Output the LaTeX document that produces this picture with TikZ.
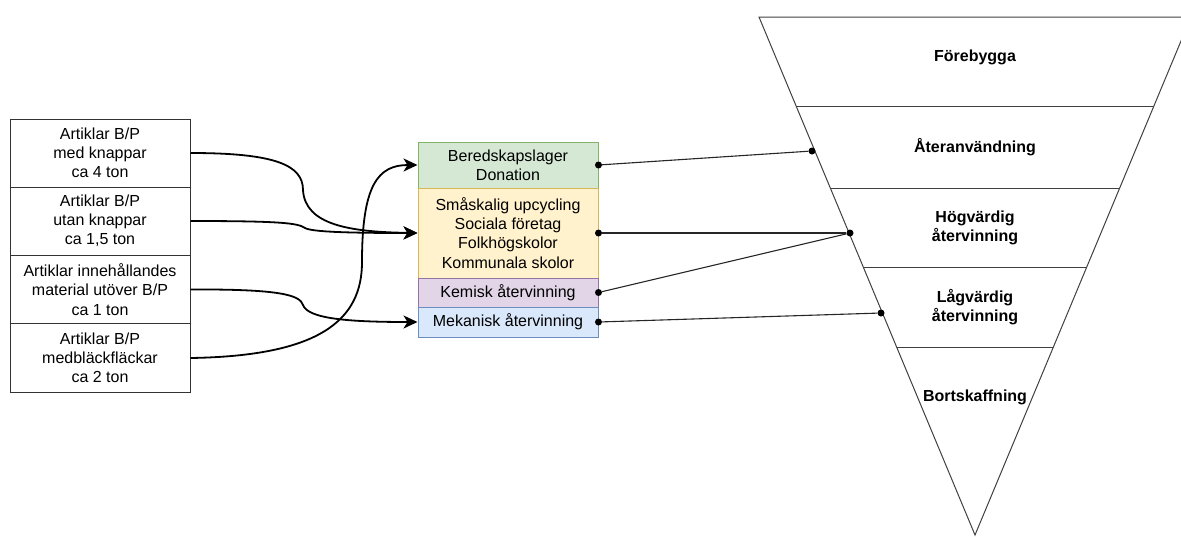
\documentclass[tikz,border=0pt]{standalone}
\usepackage{fontspec}
\setmainfont{Liberation Sans}
\usetikzlibrary{arrows.meta,calc}
\definecolor{grnF}{HTML}{D5E8D4}\definecolor{grnD}{HTML}{82B366}
\definecolor{yelF}{HTML}{FFF2CC}\definecolor{yelD}{HTML}{D6B656}
\definecolor{purF}{HTML}{E1D5E7}\definecolor{purD}{HTML}{9673A6}
\definecolor{bluF}{HTML}{DAE8FC}\definecolor{bluD}{HTML}{6C8EBF}

\begin{document}
\begin{tikzpicture}[x=1pt, y=-1pt, every node/.style={font=\fontsize{16}{19.2}\selectfont, align=center},
	art/.style={draw=black!80, line width=1pt, minimum width=180pt, minimum height=68pt, inner sep=0pt},
	mid/.style={line width=1pt, minimum width=180pt, inner sep=0pt},
	lvl/.style={font=\fontsize{16}{19.2}\selectfont\bfseries},
	tri/.style={draw=black!75, line width=1pt},
	flow/.style={line width=1.8pt, -{Stealth[length=14pt, width=13pt, inset=4pt]}},
	link/.style={draw=black!85, line width=1.1pt},
	dot/.style={circle, fill=black, inner sep=0pt, minimum size=7pt}]
	\clip (0,0) rectangle (1181,536);
	\begin{scope}
		\node[art] (art1) at (100,153) {Artiklar B/P\\ med knappar\\ ca 4 ton};
		\node[art] (art2) at (100,221) {Artiklar B/P\\ utan knappar\\ ca 1,5 ton};
		\node[art] (art3) at (100,289.5) {Artiklar innehållandes\\ material utöver B/P\\ ca 1 ton};
		\node[art, minimum height=69pt] (art4) at (100,358) {Artiklar B/P\\ medbläckfläckar\\ ca 2 ton};
	\end{scope}
	\begin{scope}
		\node[mid, fill=grnF, draw=grnD, minimum height=46pt] (lager) at (508,165) {Beredskapslager\\ Donation};
		\node[mid, fill=yelF, draw=yelD, minimum height=90pt] (upcyc) at (508,233) {Småskalig upcycling\\ Sociala företag\\ Folkhögskolor\\ Kommunala skolor};
		\node[mid, fill=purF, draw=purD, minimum height=29pt] (kemisk) at (508,292.5) {Kemisk återvinning};
		\node[mid, fill=bluF, draw=bluD, minimum height=30pt] (mekan) at (508,322) {Mekanisk återvinning};
	\end{scope}
	\draw[flow] (art1.east) .. controls (275,153) and (303,165) .. (303,190) .. controls (305,225) and (350,232) .. (upcyc.west);
	\draw[flow] (art2.east) .. controls (280,221) and (298,223) .. (305,228) .. controls (312,232) and (350,233) .. (upcyc.west);
	\draw[flow] (art3.east) .. controls (280,289) and (300,295) .. (303,305) .. controls (308,319) and (350,322) .. (mekan.west);
	\draw[flow] (art4.east) .. controls (320,356) and (362,320) .. (362,262) .. controls (362,185) and (378,165) .. (lager.west);
	\coordinate (tl) at (759,17); \coordinate (tr) at (1191,17); \coordinate (ap) at (975,535);
	\draw[tri] (tl) -- (tr) -- (ap) -- cycle;
	\foreach \yy in {106,188,268,347}
		\draw[tri] ($(tl)!{(\yy-17)/518}!(ap)$) -- ($(tr)!{(\yy-17)/518}!(ap)$);
	\node[lvl] (foreb) at (975,57) {Förebygga};
	\node[lvl] (ateran) at (975,147) {Återanvändning};
	\node[lvl] (hogv) at (975,228) {Högvärdig\\ återvinning};
	\node[lvl] (lagv) at (975,307) {Lågvärdig\\ återvinning};
	\node[lvl] (bortsk) at (975,397) {Bortskaffning};
	\node[dot] (o1) at (lager.east) {}; \node[dot] (o2) at (upcyc.east) {};
	\node[dot] (o3) at (kemisk.east) {}; \node[dot] (o4) at (mekan.east) {};
	\node[dot] (i1) at (812,151) {}; \node[dot] (i2) at (850,233) {}; \node[dot] (i3) at (881,313) {};
	\draw[link] (o1) -- (i1); \draw[link] (o2) -- (i2); \draw[link] (o3) -- (i2); \draw[link] (o4) -- (i3);
\end{tikzpicture}
\end{document}
